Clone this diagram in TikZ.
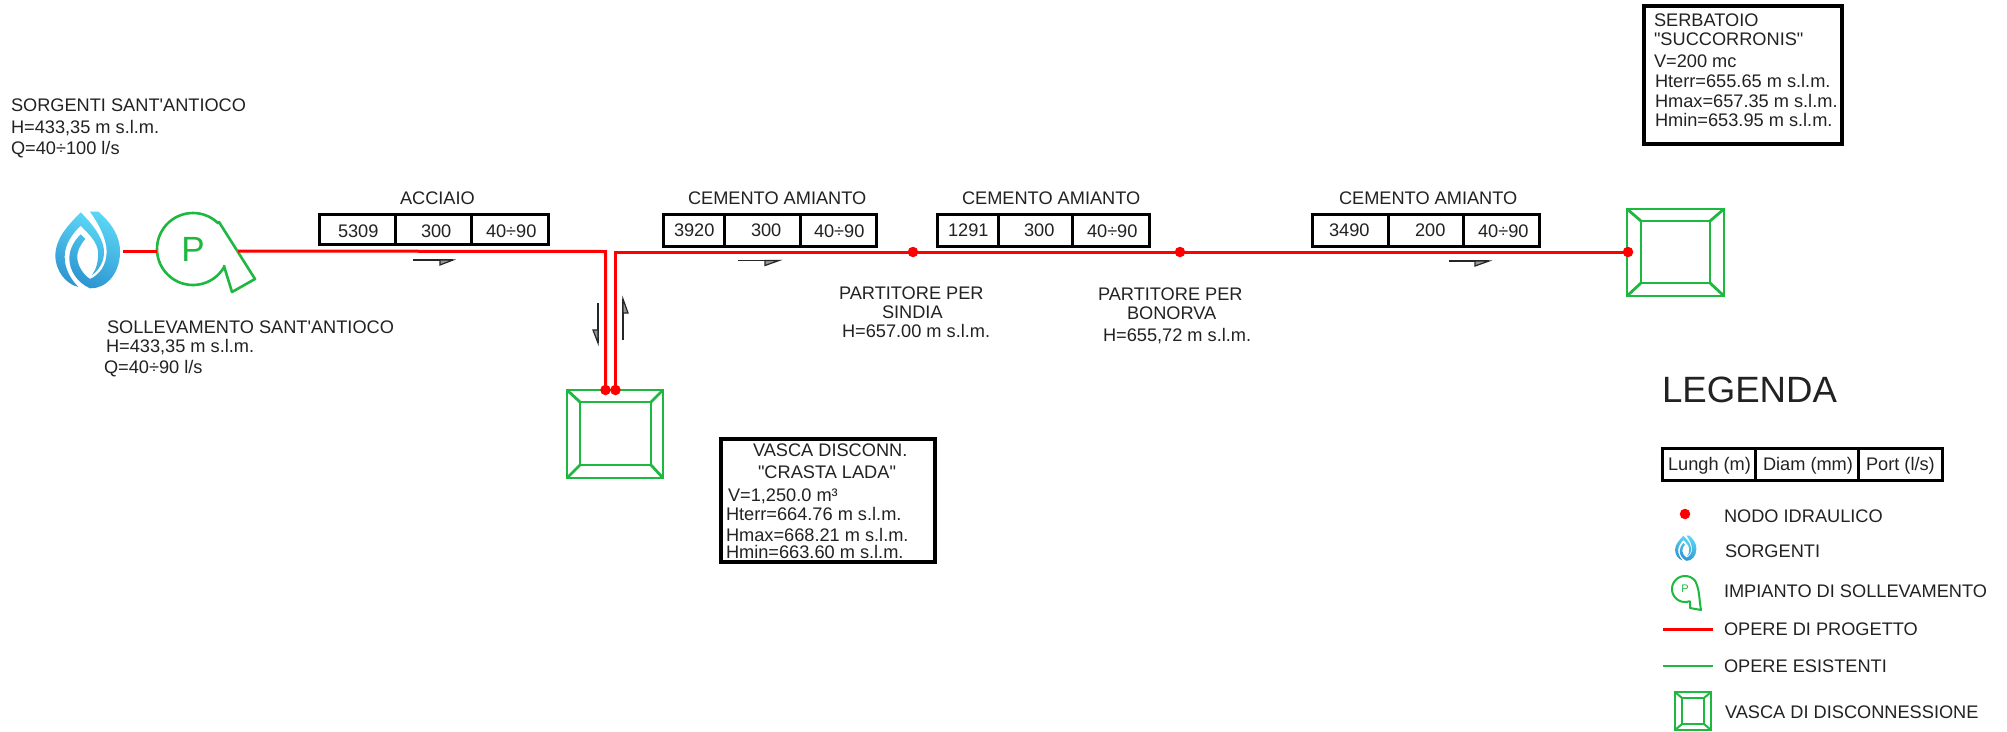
\documentclass[tikz,border=0pt]{standalone}
\usepackage{fontspec}
\newfontfamily\regfont{Liberation Sans}
\definecolor{pipered}{HTML}{FF0000}
\definecolor{tankgreen}{HTML}{1DB83F}
\definecolor{inkgrey}{HTML}{222222}
\definecolor{HLcyan}{HTML}{5AD6F4}
\definecolor{HLblue}{HTML}{2E96D2}
\tikzset{
  labn/.style={anchor=base west,inner sep=0pt,outer sep=0pt,text=inkgrey,font=\regfont\fontsize{18.2}{20}\selectfont},
  labbig/.style={anchor=base west,inner sep=0pt,outer sep=0pt,text=inkgrey,font=\regfont\fontsize{36.6}{40}\selectfont},
  pipe/.style={draw=pipered,line width=3pt},
  tankline/.style={draw=tankgreen,line width=2.8pt},
  tbl/.style={draw=black,line width=3pt},
  infobox/.style={draw=black,line width=3.2pt},
  dotnode/.style={circle,fill=pipered,inner sep=0pt,minimum size=10.5pt},
  flow/.style={draw=black!85,line width=1.6pt},
  flowhead/.style={draw=black!85,fill=black!40,line width=1.2pt},
}
% table: x1 x2 x3 x4 y1 y2
\newcommand{\celltable}[6]{%
  \draw[tbl] (#1,#5) rectangle (#4,#6);
  \draw[tbl] (#2,#5) -- (#2,#6) (#3,#5) -- (#3,#6);}
% tank: outer x1 y1 x2 y2, inner x1 y1 x2 y2
\newcommand{\tankshape}[8]{%
  \draw[tankline] (#1,#2) rectangle (#3,#4);
  \draw[tankline] (#5,#6) rectangle (#7,#8);
  \draw[tankline] (#1,#2) -- (#5,#6) (#3,#2) -- (#7,#6) (#1,#4) -- (#5,#8) (#3,#4) -- (#7,#8);}
% drop, drawn in zoom coordinates
\newcommand{\dropshape}[3]{%
  \begin{scope}[shift={(#1,#2)},xscale=#3,yscale=#3]
  \path[top color=HLcyan,bottom color=HLblue,shading angle=-25]
    (150,50) -- (175,50) .. controls (215,85) and (242,125) .. (240,175)
    .. controls (238,240) and (195,282) .. (150,280)
    .. controls (110,262) and (88,225) .. (88,190)
    .. controls (88,160) and (105,135) .. (122,118)
    -- (136,132) .. controls (120,150) and (110,170) .. (112,190)
    .. controls (114,215) and (130,238) .. (150,252)
    .. controls (178,240) and (200,210) .. (200,170)
    .. controls (200,130) and (175,85) .. (150,50) -- cycle;
  \path[top color=HLcyan,bottom color=HLblue,shading angle=-25]
    (122,52) .. controls (80,95) and (48,130) .. (46,180)
    .. controls (46,230) and (80,268) .. (115,276)
    .. controls (90,250) and (74,220) .. (74,185)
    .. controls (74,150) and (95,118) .. (122,92)
    .. controls (148,118) and (172,142) .. (174,170)
    .. controls (176,200) and (168,225) .. (156,240)
    .. controls (178,225) and (194,198) .. (192,165)
    .. controls (188,125) and (155,85) .. (122,52) -- cycle;
  \end{scope}}
% pump round its centre: x y scale linewidth fontsize name
\newcommand{\pumpshape}[6]{%
  \begin{scope}[shift={(#1,#2)},xscale=#3,yscale=#3]
  \draw[draw=tankgreen,line width=#4pt,line join=round]
    (26,-27) -- (62,30) -- (39,43) -- (31,17)
    -- plot[smooth,domain=29:314,samples=60] ({36*cos(\x)},{36*sin(\x)}) -- cycle;
  \end{scope}
  \node[anchor=center,inner sep=0pt,text=tankgreen,font=\regfont\fontsize{#5}{#5}\selectfont] (#6) at (#1,#2) {P};}
\begin{document}
\begin{tikzpicture}[x=1pt,y=-1pt]
\useasboundingbox[fill=white] (0,0) rectangle (2007,731);

% source and pump
\dropshape{40}{195}{0.3333}
\pumpshape{193}{249}{1}{2.6}{35}{pumpP}
\coordinate (srcout) at (123,251);
\coordinate (pumpin) at (157,251);
\coordinate (pumpout) at (238,251);
\draw[pipe] (srcout) -- (pumpin);

% tanks
\tankshape{567}{390}{663}{478}{580}{402}{651}{465}
\tankshape{1627}{209}{1724}{296}{1641}{221}{1710}{283}

% hydraulic nodes and pipes
\node[dotnode] (dnL) at (605.5,390) {};
\node[dotnode] (dnR) at (615.5,390) {};
\node[dotnode] (part1) at (913,252) {};
\node[dotnode] (part2) at (1180,252) {};
\node[dotnode] (tankin) at (1628,252) {};
\coordinate (cornerL) at (605.5,251.5);
\coordinate (cornerR) at (615.5,252);
\draw[pipe,line join=miter] (pumpout) -- (cornerL) -- (dnL.center);
\draw[pipe,line join=miter] (dnR.center) -- (cornerR) -- (part1.center) -- (part2.center) -- (tankin.center);

% tables
\celltable{319}{395}{471}{548}{214}{244}
\celltable{663}{724}{800}{876}{214}{246}
\celltable{937}{998}{1072}{1149}{214}{246}
\celltable{1312}{1388}{1463}{1539}{214}{246}

% flow arrows
\draw[flow] (413,260) -- (453,260);
\draw[flowhead] (440,260) -- (453,260) -- (440,265) -- cycle;
\draw[flow] (738,260.5) -- (779,260.5);
\draw[flowhead] (765,260.5) -- (779,260.5) -- (765,265.5) -- cycle;
\draw[flow] (1449,261) -- (1489,261);
\draw[flowhead] (1475,261) -- (1489,261) -- (1475,266) -- cycle;
\draw[flow] (598,303) -- (598,343);
\draw[flowhead] (598,330) -- (598,343) -- (593,330) -- cycle;
\draw[flow] (623,340) -- (623,299);
\draw[flowhead] (623,313) -- (623,299) -- (628,313) -- cycle;

% info boxes
\draw[infobox] (721,439) rectangle (935,562);
\draw[line width=4pt,draw=black] (1644,6) rectangle (1842,144);

% labels
\node[labn] (t1) at (11,111) {SORGENTI SANT'ANTIOCO};
\node[labn] (t2) at (11,133) {H=433,35 m s.l.m.};
\node[labn] (t3) at (11,154) {Q=40÷100 l/s};
\node[labn] (t4) at (107,333) {SOLLEVAMENTO SANT'ANTIOCO};
\node[labn] (t5) at (106,352) {H=433,35 m s.l.m.};
\node[labn] (t6) at (104,373) {Q=40÷90 l/s};

\node[labn] (a0) at (400,204) {ACCIAIO};
\node[labn] (a1) at (338,237) {5309};
\node[labn] (a2) at (421,237) {300};
\node[labn] (a3) at (486,237) {40÷90};

\node[labn] (b0) at (688,204) {CEMENTO AMIANTO};
\node[labn] (b1) at (674,236) {3920};
\node[labn] (b2) at (751,236) {300};
\node[labn] (b3) at (814,237) {40÷90};

\node[labn] (c0) at (962,204) {CEMENTO AMIANTO};
\node[labn] (c1) at (948,236) {1291};
\node[labn] (c2) at (1024,236) {300};
\node[labn] (c3) at (1087,237) {40÷90};

\node[labn] (d0) at (1339,204) {CEMENTO AMIANTO};
\node[labn] (d1) at (1329,236) {3490};
\node[labn] (d2) at (1415,236) {200};
\node[labn] (d3) at (1478,237) {40÷90};

\node[labn] (p1) at (839,299) {PARTITORE PER};
\node[labn] (p2) at (882,318) {SINDIA};
\node[labn] (p3) at (842,337) {H=657.00 m s.l.m.};
\node[labn] (q1) at (1098,300) {PARTITORE PER};
\node[labn] (q2) at (1127,319) {BONORVA};
\node[labn] (q3) at (1103,341) {H=655,72 m s.l.m.};

\node[labn] (v1) at (753,456) {VASCA DISCONN.};
\node[labn] (v2) at (758,478) {"CRASTA LADA"};
\node[labn] (v3) at (728,501) {V=1,250.0 m³};
\node[labn] (v4) at (726,520) {Hterr=664.76 m s.l.m.};
\node[labn] (v5) at (726,541) {Hmax=668.21 m s.l.m.};
\node[labn] (v6) at (726,558) {Hmin=663.60 m s.l.m.};

\node[labn] (s1) at (1654,26) {SERBATOIO};
\node[labn] (s2) at (1654,45) {"SUCCORRONIS"};
\node[labn] (s3) at (1654,67) {V=200 mc};
\node[labn] (s4) at (1655,87) {Hterr=655.65 m s.l.m.};
\node[labn] (s5) at (1655,107) {Hmax=657.35 m s.l.m.};
\node[labn] (s6) at (1655,126) {Hmin=653.95 m s.l.m.};

% legend
\node[labbig] (lg) at (1662,402) {LEGENDA};
\celltable{1662}{1755}{1858}{1942}{448}{480}
\node[labn] (lg1) at (1668,470) {Lungh (m)};
\node[labn] (lg2) at (1763,470) {Diam (mm)};
\node[labn] (lg3) at (1866,470) {Port (l/s)};

\node[dotnode] (lgdot) at (1685,514) {};
\dropshape{1670}{530}{0.11}
\draw[draw=tankgreen,line width=2pt,line join=round]
  (1695,580.6) .. controls (1700,590) and (1699,600) .. (1701,610)
  -- (1690,608) -- (1690,601.5)
  -- plot[smooth,domain=70:320,samples=40] ({1685+13*cos(\x)},{589+13*sin(\x)});
\node[anchor=center,inner sep=0pt,text=tankgreen,font=\regfont\fontsize{11}{11}\selectfont] (lgP) at (1685,589) {P};
\coordinate (lgr1) at (1663,629);
\coordinate (lgr2) at (1713,629);
\draw[pipe] (lgr1) -- (lgr2);
\coordinate (lgg1) at (1663,666);
\coordinate (lgg2) at (1713,666);
\draw[draw=tankgreen,line width=2.2pt] (lgg1) -- (lgg2);
\begin{scope}
\tikzset{tankline/.style={draw=tankgreen,line width=2pt}}
\tankshape{1675}{692}{1711}{730}{1682}{698}{1704}{724}
\end{scope}

\node[labn] (lt1) at (1724,522) {NODO IDRAULICO};
\node[labn] (lt2) at (1725,557) {SORGENTI};
\node[labn] (lt3) at (1724,597) {IMPIANTO DI SOLLEVAMENTO};
\node[labn] (lt4) at (1724,635) {OPERE DI PROGETTO};
\node[labn] (lt5) at (1724,672) {OPERE ESISTENTI};
\node[labn] (lt6) at (1725,718) {VASCA DI DISCONNESSIONE};
\end{tikzpicture}
\end{document}
